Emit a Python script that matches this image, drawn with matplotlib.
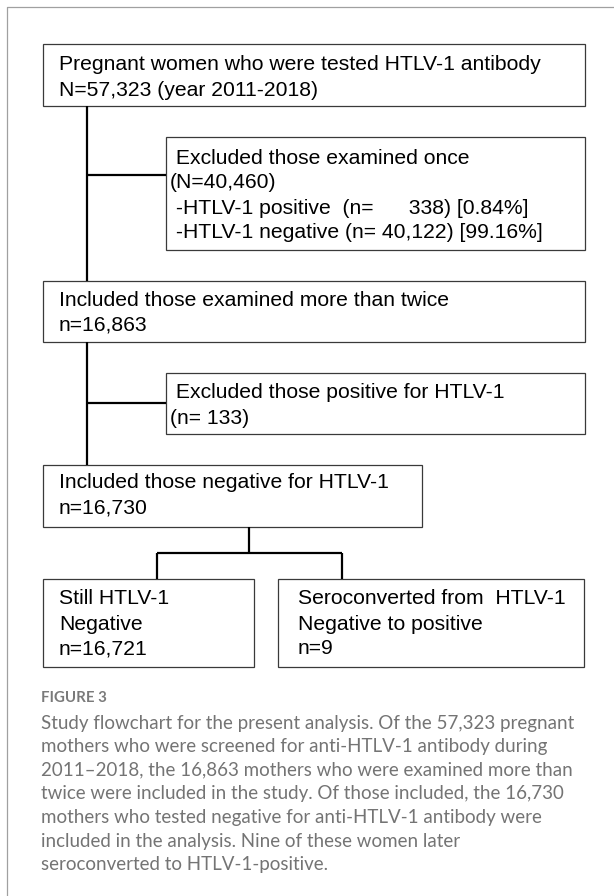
import matplotlib.pyplot as plt
from matplotlib.patches import Rectangle

# box texts (flowchart content)
box_texts = [
    ["Pregnant women who were tested HTLV-1 antibody", "N=57,323 (year 2011-2018)"],
    [" Excluded those examined once", "(N=40,460)",
     " -HTLV-1 positive  (n=      338) [0.84%]",
     " -HTLV-1 negative (n= 40,122) [99.16%]"],
    ["Included those examined more than twice", "n=16,863"],
    [" Excluded those positive for HTLV-1", "(n= 133)"],
    ["Included those negative for HTLV-1", "n=16,730"],
    ["Still HTLV-1", "Negative", "n=16,721"],
    ["Seroconverted from  HTLV-1", "Negative to positive", "n=9"],
]

caption_title = "FIGURE 3"
caption_lines = [
    "Study flowchart for the present analysis. Of the 57,323 pregnant",
    "mothers who were screened for anti-HTLV-1 antibody during",
    "2011\u20132018, the 16,863 mothers who were examined more than",
    "twice were included in the study. Of those included, the 16,730",
    "mothers who tested negative for anti-HTLV-1 antibody were",
    "included in the analysis. Nine of these women later",
    "seroconverted to HTLV-1-positive.",
]

# layout in pixels: left, top, right, bottom, text x, first line y, line step
layout = [
    (43, 44, 585, 106, 59, 64, 26),
    (166, 137, 585, 250, 170, 158, 25),
    (43, 281, 585, 342, 59, 300, 25),
    (166, 373, 585, 434, 170, 393, 25),
    (43, 465, 422, 527, 59, 483, 25),
    (43, 579, 254, 667, 59, 599, 25),
    (278, 579, 584, 667, 298, 599, 25),
]

W, H = 614, 896
fig = plt.figure(figsize=(W / 100, H / 100), dpi=100)
ax = fig.add_axes([0, 0, 1, 1])
ax.set_xlim(0, W)
ax.set_ylim(H, 0)
ax.axis('off')

# outer frame (left and top only)
ax.plot([7, 7, W], [H, 7, 7], color='#a0a0a0', lw=0.9)

for texts, (l, t, r, b, tx, ty, step) in zip(box_texts, layout):
    ax.add_patch(Rectangle((l, t), r - l, b - t, fill=False,
                           edgecolor='#3a3a3a', lw=0.9))
    for i, s in enumerate(texts):
        ax.text(tx, ty + i * step, s, fontsize=15.2, family='Liberation Sans',
                va='center', ha='left', color='black')

# connectors
lc = dict(color='black', lw=1.6, solid_capstyle='butt')
ax.plot([87, 87], [106, 281], **lc)
ax.plot([87, 166], [175, 175], **lc)
ax.plot([87, 87], [342, 465], **lc)
ax.plot([87, 166], [403, 403], **lc)
ax.plot([249, 249], [527, 553], **lc)
ax.plot([157, 342], [553, 553], **lc)
ax.plot([157, 157], [553, 579], **lc)
ax.plot([342, 342], [553, 579], **lc)

# caption
ax.text(41, 698, caption_title, fontsize=10.8, family='Lato',
        weight='bold', color='#7a7a7a', va='center')
for i, s in enumerate(caption_lines):
    ax.text(41, 723 + i * 23.6, s, fontsize=13.5, family='Lato',
            weight='normal', color='#747474', va='center')

fig.savefig('out.png', dpi=100)
